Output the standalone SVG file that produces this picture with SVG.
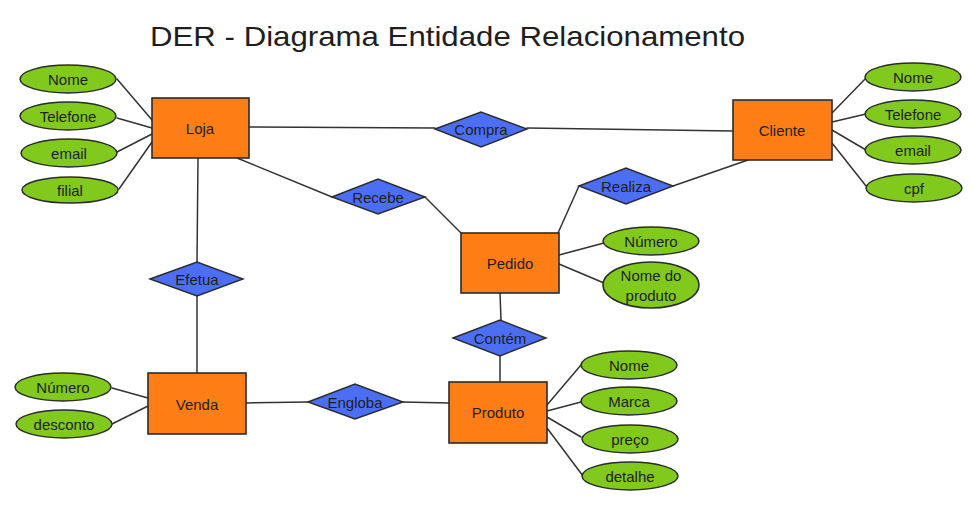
<svg xmlns="http://www.w3.org/2000/svg" width="973" height="508" viewBox="0 0 973 508">
  <style>
    .bg { fill: #ffffff; }
    .entity rect { fill: #fd7e14; stroke: #2b2b2b; stroke-width: 1.6; }
    .rel polygon { fill: #4c6ef5; stroke: #2b2b2b; stroke-width: 1.4; }
    .attr ellipse { fill: #82c91e; stroke: #2b2b2b; stroke-width: 1.5; }
    .links line { stroke: #333333; stroke-width: 1.5; stroke-linecap: round; }
    text { font-family: "Liberation Sans", "DejaVu Sans", sans-serif; fill: #1e1e1e; text-anchor: middle; dominant-baseline: central; }
    .lbl { font-size: 15px; }
    .title { font-size: 28px; text-anchor: start; dominant-baseline: auto; }
  </style>

  <rect class="bg" x="0" y="0" width="973" height="508"/>

  <text class="title" x="150" y="46" textLength="595" lengthAdjust="spacingAndGlyphs">DER - Diagrama Entidade Relacionamento</text>

  <!-- connectors -->
  <g id="connectors" class="links">
    <!-- Loja attributes -->
    <line x1="117" y1="79" x2="152" y2="120"/>
    <line x1="117" y1="118" x2="152" y2="128"/>
    <line x1="117" y1="152" x2="152" y2="134"/>
    <line x1="119" y1="189" x2="152" y2="142"/>
    <!-- Loja - Compra - Cliente -->
    <line x1="249" y1="127" x2="435" y2="128"/>
    <line x1="527" y1="128" x2="733" y2="131"/>
    <!-- Loja - Recebe - Pedido -->
    <line x1="237" y1="158" x2="332" y2="197"/>
    <line x1="425" y1="197" x2="461" y2="233"/>
    <!-- Pedido - Realiza - Cliente -->
    <line x1="558" y1="233" x2="579" y2="186"/>
    <line x1="673" y1="186" x2="748" y2="160"/>
    <!-- Pedido attributes -->
    <line x1="559" y1="255" x2="604" y2="243"/>
    <line x1="559" y1="264" x2="604" y2="283"/>
    <!-- Pedido - Contém - Produto -->
    <line x1="500" y1="293" x2="501" y2="320"/>
    <line x1="500" y1="356" x2="500" y2="382"/>
    <!-- Loja - Efetua - Venda -->
    <line x1="198" y1="158" x2="197" y2="262"/>
    <line x1="197" y1="296" x2="197" y2="373"/>
    <!-- Venda attributes -->
    <line x1="112" y1="388" x2="148" y2="398"/>
    <line x1="112" y1="424" x2="148" y2="406"/>
    <!-- Venda - Engloba - Produto -->
    <line x1="246" y1="403" x2="308" y2="402"/>
    <line x1="403" y1="402" x2="449" y2="403"/>
    <!-- Produto attributes -->
    <line x1="547" y1="405" x2="581" y2="365"/>
    <line x1="547" y1="411" x2="581" y2="402"/>
    <line x1="547" y1="417" x2="581" y2="437"/>
    <line x1="547" y1="428" x2="583" y2="476"/>
    <!-- Cliente attributes -->
    <line x1="832" y1="113" x2="866" y2="78"/>
    <line x1="832" y1="122" x2="866" y2="114"/>
    <line x1="832" y1="130" x2="866" y2="150"/>
    <line x1="832" y1="143" x2="866" y2="186"/>
  </g>

  <!-- entities -->
  <g id="loja" class="entity"><rect x="152" y="98" width="97" height="60"/><text class="lbl" x="200" y="128">Loja</text></g>
  <g id="cliente" class="entity"><rect x="733" y="100" width="99" height="60"/><text class="lbl" x="782" y="130">Cliente</text></g>
  <g id="pedido" class="entity"><rect x="461" y="233" width="98" height="60"/><text class="lbl" x="510" y="263">Pedido</text></g>
  <g id="venda" class="entity"><rect x="148" y="373" width="98" height="61"/><text class="lbl" x="197" y="404">Venda</text></g>
  <g id="produto" class="entity"><rect x="449" y="382" width="98" height="61"/><text class="lbl" x="498" y="412">Produto</text></g>

  <!-- relationships -->
  <g id="compra" class="rel"><polygon points="435,129 481,112 527,129 481,147"/><text class="lbl" x="481" y="129">Compra</text></g>
  <g id="recebe" class="rel"><polygon points="332,197 378,179 425,197 378,214"/><text class="lbl" x="378" y="197">Recebe</text></g>
  <g id="realiza" class="rel"><polygon points="579,186 626,168 673,186 626,204"/><text class="lbl" x="626" y="186">Realiza</text></g>
  <g id="contem" class="rel"><polygon points="453,338 500,320 546,338 500,356"/><text class="lbl" x="500" y="338">Contém</text></g>
  <g id="engloba" class="rel"><polygon points="308,402 355,384 403,402 355,419"/><text class="lbl" x="355" y="402">Engloba</text></g>
  <g id="efetua" class="rel"><polygon points="150,279 197,262 243,279 197,296"/><text class="lbl" x="197" y="279">Efetua</text></g>

  <!-- Loja attributes -->
  <g id="loja-nome" class="attr"><ellipse cx="68" cy="79" rx="48" ry="14"/><text class="lbl" x="68" y="79">Nome</text></g>
  <g id="loja-telefone" class="attr"><ellipse cx="68" cy="116" rx="48" ry="14"/><text class="lbl" x="68" y="116">Telefone</text></g>
  <g id="loja-email" class="attr"><ellipse cx="69" cy="153" rx="48" ry="14"/><text class="lbl" x="69" y="153">email</text></g>
  <g id="loja-filial" class="attr"><ellipse cx="70" cy="190" rx="48" ry="13"/><text class="lbl" x="70" y="190">filial</text></g>

  <!-- Cliente attributes -->
  <g id="cliente-nome" class="attr"><ellipse cx="913" cy="77" rx="48" ry="14"/><text class="lbl" x="913" y="77">Nome</text></g>
  <g id="cliente-telefone" class="attr"><ellipse cx="913" cy="114" rx="48" ry="14"/><text class="lbl" x="913" y="114">Telefone</text></g>
  <g id="cliente-email" class="attr"><ellipse cx="913" cy="150" rx="48" ry="14"/><text class="lbl" x="913" y="150">email</text></g>
  <g id="cliente-cpf" class="attr"><ellipse cx="914" cy="188" rx="48" ry="14"/><text class="lbl" x="914" y="188">cpf</text></g>

  <!-- Pedido attributes -->
  <g id="pedido-numero" class="attr"><ellipse cx="651" cy="241" rx="48" ry="14"/><text class="lbl" x="651" y="241">Número</text></g>
  <g id="pedido-nome-produto" class="attr"><ellipse cx="651" cy="285" rx="48" ry="23"/><text class="lbl" x="651" y="275">Nome do</text><text class="lbl" x="651" y="295">produto</text></g>

  <!-- Venda attributes -->
  <g id="venda-numero" class="attr"><ellipse cx="63" cy="387" rx="48" ry="14"/><text class="lbl" x="63" y="387">Número</text></g>
  <g id="venda-desconto" class="attr"><ellipse cx="64" cy="424" rx="48" ry="14"/><text class="lbl" x="64" y="424">desconto</text></g>

  <!-- Produto attributes -->
  <g id="produto-nome" class="attr"><ellipse cx="629" cy="365" rx="48" ry="14"/><text class="lbl" x="629" y="365">Nome</text></g>
  <g id="produto-marca" class="attr"><ellipse cx="629" cy="401" rx="48" ry="14"/><text class="lbl" x="629" y="401">Marca</text></g>
  <g id="produto-preco" class="attr"><ellipse cx="630" cy="439" rx="48" ry="14"/><text class="lbl" x="630" y="439">preço</text></g>
  <g id="produto-detalhe" class="attr"><ellipse cx="630" cy="476" rx="48" ry="14"/><text class="lbl" x="630" y="476">detalhe</text></g>
</svg>
